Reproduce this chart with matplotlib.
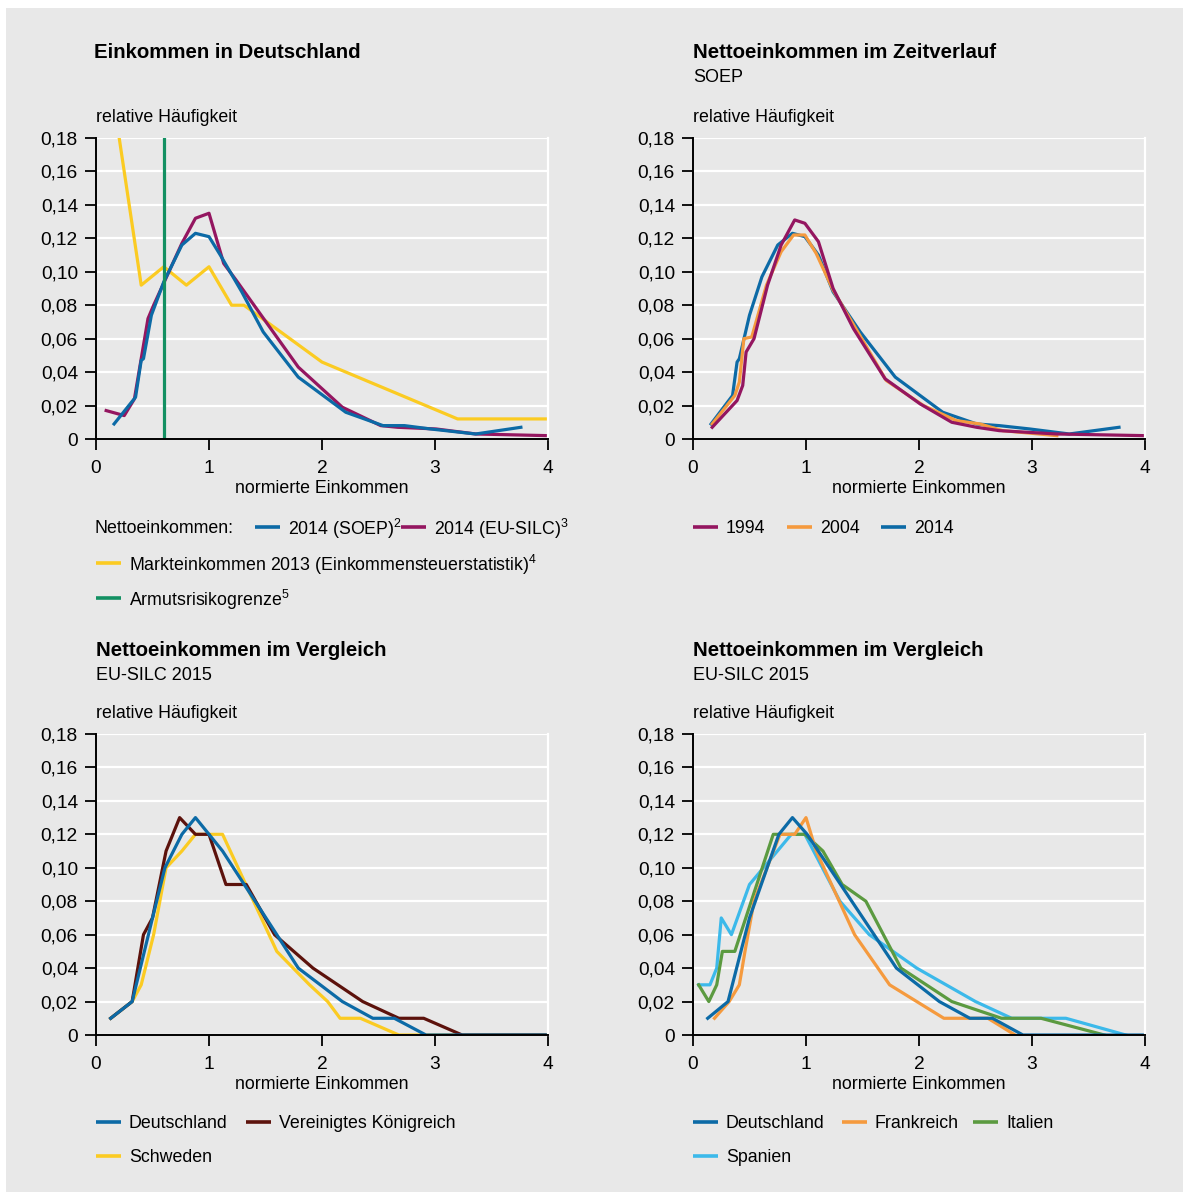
import matplotlib
matplotlib.use('Agg')
import matplotlib.pyplot as plt
import matplotlib.ticker as mticker
from matplotlib.lines import Line2D
from matplotlib.patches import Rectangle

# ── Data ──────────────────────────────────────────────────────────────────────
# Einkommen in Deutschland
soep14_x = [0.16, 0.35, 0.40, 0.42, 0.49, 0.60, 0.76, 0.88, 1.00, 1.10, 1.29, 1.48, 1.79, 2.21, 2.54, 2.73, 2.96, 3.36, 3.76]
soep14_y = [0.009, 0.025, 0.047, 0.048, 0.074, 0.094, 0.116, 0.123, 0.121, 0.110, 0.088, 0.064, 0.037, 0.016, 0.008, 0.008, 0.006, 0.003, 0.007]
silc14_x = [0.09, 0.25, 0.34, 0.40, 0.46, 0.51, 0.76, 0.88, 1.00, 1.13, 1.24, 1.79, 2.18, 2.52, 2.67, 3.01, 3.36, 4.0]
silc14_y = [0.017, 0.014, 0.024, 0.048, 0.072, 0.080, 0.117, 0.132, 0.135, 0.105, 0.095, 0.043, 0.019, 0.008, 0.007, 0.006, 0.003, 0.002]
markt13_x = [0.15, 0.40, 0.60, 0.80, 1.00, 1.20, 1.31, 2.00, 3.20, 4.0]
markt13_y = [0.205, 0.092, 0.103, 0.092, 0.103, 0.080, 0.080, 0.046, 0.012, 0.012]
armut_grenze = 0.6

# Nettoeinkommen im Zeitverlauf (SOEP)
y1994_x = [0.17, 0.39, 0.44, 0.47, 0.54, 0.66, 0.78, 0.90, 0.99, 1.11, 1.24, 1.42, 1.70, 2.01, 2.29, 2.51, 2.71, 3.22, 4.0]
y1994_y = [0.007, 0.023, 0.032, 0.052, 0.060, 0.092, 0.116, 0.131, 0.129, 0.118, 0.090, 0.066, 0.036, 0.021, 0.010, 0.007, 0.005, 0.003, 0.002]
y2004_x = [0.17, 0.37, 0.41, 0.45, 0.52, 0.65, 0.78, 0.89, 0.99, 1.09, 1.24, 1.45, 1.71, 2.04, 2.33, 2.54, 2.74, 3.22]
y2004_y = [0.009, 0.026, 0.034, 0.060, 0.061, 0.092, 0.112, 0.122, 0.122, 0.111, 0.089, 0.065, 0.035, 0.020, 0.011, 0.009, 0.005, 0.002]
y2014_x = [0.16, 0.35, 0.39, 0.41, 0.50, 0.61, 0.75, 0.88, 0.99, 1.11, 1.24, 1.48, 1.79, 2.21, 2.51, 2.71, 2.98, 3.33, 3.77]
y2014_y = [0.009, 0.026, 0.046, 0.048, 0.074, 0.097, 0.116, 0.123, 0.121, 0.110, 0.088, 0.064, 0.037, 0.016, 0.009, 0.008, 0.006, 0.003, 0.007]

# Nettoeinkommen im Vergleich (EU-SILC 2015), links
de_l_x = [0.13, 0.32, 0.50, 0.61, 0.76, 0.88, 1.00, 1.12, 1.60, 1.79, 2.18, 2.45, 2.64, 2.92, 4.0]
de_l_y = [0.01, 0.02, 0.07, 0.10, 0.12, 0.13, 0.12, 0.11, 0.06, 0.04, 0.02, 0.01, 0.01, 0.0, 0.0]
uk_x = [0.13, 0.32, 0.42, 0.50, 0.62, 0.74, 0.88, 1.00, 1.15, 1.33, 1.58, 1.92, 2.36, 2.68, 2.90, 3.24, 4.0]
uk_y = [0.01, 0.02, 0.06, 0.07, 0.11, 0.13, 0.12, 0.12, 0.09, 0.09, 0.06, 0.04, 0.02, 0.01, 0.01, 0.0, 0.0]
se_x = [0.13, 0.32, 0.40, 0.51, 0.62, 0.76, 0.88, 1.12, 1.60, 1.89, 2.05, 2.16, 2.34, 2.68, 4.0]
se_y = [0.01, 0.02, 0.03, 0.06, 0.10, 0.11, 0.12, 0.12, 0.05, 0.03, 0.02, 0.01, 0.01, 0.0, 0.0]

# Nettoeinkommen im Vergleich (EU-SILC 2015), rechts
de_r_x = [0.13, 0.31, 0.50, 0.76, 0.88, 1.01, 1.80, 2.18, 2.45, 2.65, 2.92, 4.0]
de_r_y = [0.01, 0.02, 0.07, 0.12, 0.13, 0.12, 0.04, 0.02, 0.01, 0.01, 0.0, 0.0]
fr_x = [0.19, 0.32, 0.41, 0.46, 0.54, 0.77, 0.90, 1.00, 1.09, 1.43, 1.74, 2.22, 2.61, 2.85]
fr_y = [0.01, 0.02, 0.03, 0.05, 0.08, 0.12, 0.12, 0.13, 0.11, 0.06, 0.03, 0.01, 0.01, 0.0]
it_x = [0.05, 0.14, 0.21, 0.26, 0.37, 0.71, 0.99, 1.15, 1.32, 1.53, 1.84, 2.29, 2.73, 3.08, 3.64]
it_y = [0.03, 0.02, 0.03, 0.05, 0.05, 0.12, 0.12, 0.11, 0.09, 0.08, 0.04, 0.02, 0.01, 0.01, 0.0]
es_x = [0.05, 0.15, 0.21, 0.25, 0.34, 0.50, 0.87, 0.99, 1.30, 1.56, 1.98, 2.50, 2.82, 3.30, 3.83]
es_y = [0.03, 0.03, 0.04, 0.07, 0.06, 0.09, 0.12, 0.12, 0.08, 0.06, 0.04, 0.02, 0.01, 0.01, 0.0]

X_TICKS = [0, 1, 2, 3, 4]
Y_TICKS = [0, 0.02, 0.04, 0.06, 0.08, 0.10, 0.12, 0.14, 0.16, 0.18]

# ── Style ─────────────────────────────────────────────────────────────────────
BG     = '#e8e8e8'
BLUE   = '#0c6aa6'
PURPLE = '#941660'
YELLOW = '#fbcb22'
GREEN  = '#139062'
ORANGE = '#f59a3e'
BROWN  = '#5c120c'
LBLUE  = '#3cb9ea'
IGREEN = '#5b9a40'
LW = 2.3

plt.rcParams['font.family'] = ['Liberation Sans', 'DejaVu Sans']
plt.rcParams['mathtext.default'] = 'regular'
FS = 12.8        # labels / legend
TICK_FS = 13.8   # tick labels
TITLE_FONT = dict(fontweight='bold', fontsize=14.7)

W, H = 1183, 1192
fig = plt.figure(figsize=(W / 100, H / 100), dpi=100, facecolor='white')
fig.add_artist(Rectangle((6 / W, 0), 1 - 6 / W, 1 - 8 / H, transform=fig.transFigure,
                         facecolor=BG, edgecolor='none', zorder=-10))


def px(x, y):
    return x / W, 1 - y / H


def ftext(x, y, s, **kw):
    # y is the visual centre in pixels; small nudge for descender space
    kw.setdefault('fontsize', FS)
    kw.setdefault('va', 'center')
    fig.text(*px(x, y + 2), s, **kw)


def make_axes(left, top):
    # axes box: left/top in pixels, 452 x 301 px
    ax = fig.add_axes([left / W, 1 - (top + 301) / H, 452 / W, 301 / H])
    ax.set_facecolor(BG)
    ax.set_xlim(0, 4)
    ax.set_ylim(0, 0.18)
    ax.set_xticks(X_TICKS)
    ax.set_yticks(Y_TICKS)
    ax.yaxis.set_major_formatter(mticker.FuncFormatter(
        lambda v, _: '0' if abs(v) < 1e-9 else f'{v:.2f}'.replace('.', ',')))
    ax.yaxis.grid(True, color='white', linewidth=1.6)
    ax.set_axisbelow(True)
    ax.spines['top'].set_visible(False)
    ax.spines['right'].set_color('white')
    ax.spines['right'].set_linewidth(1.6)
    ax.spines['left'].set_linewidth(1.4)
    ax.spines['bottom'].set_linewidth(1.4)
    ax.tick_params(direction='out', length=8, width=1.3, labelsize=TICK_FS, pad=5)
    ax.tick_params(axis='x', pad=7)
    ax.text(0.5, -0.163, 'normierte Einkommen', transform=ax.transAxes,
            ha='center', va='center', fontsize=FS)
    return ax


def legend_item(x, y, color, label, sup=None):
    fig.add_artist(Line2D([x / W, (x + 25) / W], [1 - y / H] * 2, transform=fig.transFigure,
                          color=color, linewidth=2.6, solid_capstyle='butt'))
    s = label if sup is None else label + '$^{' + sup + '}$'
    ftext(x + 33, y, s)


# ── Einkommen in Deutschland ──────────────────────────────────────────────────
ax1 = make_axes(96, 138)
ax1.plot(markt13_x, markt13_y, color=YELLOW, lw=LW)
ax1.plot(silc14_x, silc14_y, color=PURPLE, lw=LW)
ax1.plot(soep14_x, soep14_y, color=BLUE, lw=LW)
ax1.axvline(armut_grenze, color=GREEN, lw=LW)
ftext(94, 51, 'Einkommen in Deutschland', **TITLE_FONT)
ftext(96, 116, 'relative Häufigkeit')
ftext(94, 527, 'Nettoeinkommen:')
legend_item(255, 527, BLUE, '2014 (SOEP)', '2')
legend_item(401, 527, PURPLE, '2014 (EU-SILC)', '3')
legend_item(96, 563, YELLOW, 'Markteinkommen 2013 (Einkommensteuerstatistik)', '4')
legend_item(96, 598, GREEN, 'Armutsrisikogrenze', '5')

# ── Nettoeinkommen im Zeitverlauf ─────────────────────────────────────────────
ax2 = make_axes(693, 138)
ax2.plot(y2014_x, y2014_y, color=BLUE, lw=LW)
ax2.plot(y2004_x, y2004_y, color=ORANGE, lw=LW)
ax2.plot(y1994_x, y1994_y, color=PURPLE, lw=LW)
ftext(693, 51, 'Nettoeinkommen im Zeitverlauf', **TITLE_FONT)
ftext(693, 76, 'SOEP', fontsize=13)
ftext(693, 116, 'relative Häufigkeit')
legend_item(693, 527, PURPLE, '1994')
legend_item(787, 527, ORANGE, '2004')
legend_item(881, 527, BLUE, '2014')

# ── Nettoeinkommen im Vergleich (links) ───────────────────────────────────────
ax3 = make_axes(96, 734)
ax3.plot(se_x, se_y, color=YELLOW, lw=LW)
ax3.plot(uk_x, uk_y, color=BROWN, lw=LW)
ax3.plot(de_l_x, de_l_y, color=BLUE, lw=LW)
ftext(96, 649, 'Nettoeinkommen im Vergleich', **TITLE_FONT)
ftext(96, 674, 'EU-SILC 2015', fontsize=13)
ftext(96, 711, 'relative Häufigkeit')
legend_item(96, 1122, BLUE, 'Deutschland')
legend_item(246, 1122, BROWN, 'Vereinigtes Königreich')
legend_item(96, 1156, YELLOW, 'Schweden')

# ── Nettoeinkommen im Vergleich (rechts) ──────────────────────────────────────
ax4 = make_axes(693, 734)
ax4.plot(es_x, es_y, color=LBLUE, lw=LW)
ax4.plot(it_x, it_y, color=IGREEN, lw=LW)
ax4.plot(fr_x, fr_y, color=ORANGE, lw=LW)
ax4.plot(de_r_x, de_r_y, color=BLUE, lw=LW)
ftext(693, 649, 'Nettoeinkommen im Vergleich', **TITLE_FONT)
ftext(693, 674, 'EU-SILC 2015', fontsize=13)
ftext(693, 711, 'relative Häufigkeit')
legend_item(693, 1122, BLUE, 'Deutschland')
legend_item(842, 1122, ORANGE, 'Frankreich')
legend_item(973, 1122, IGREEN, 'Italien')
legend_item(693, 1156, LBLUE, 'Spanien')

fig.savefig('out.png', dpi=100, facecolor='white')
